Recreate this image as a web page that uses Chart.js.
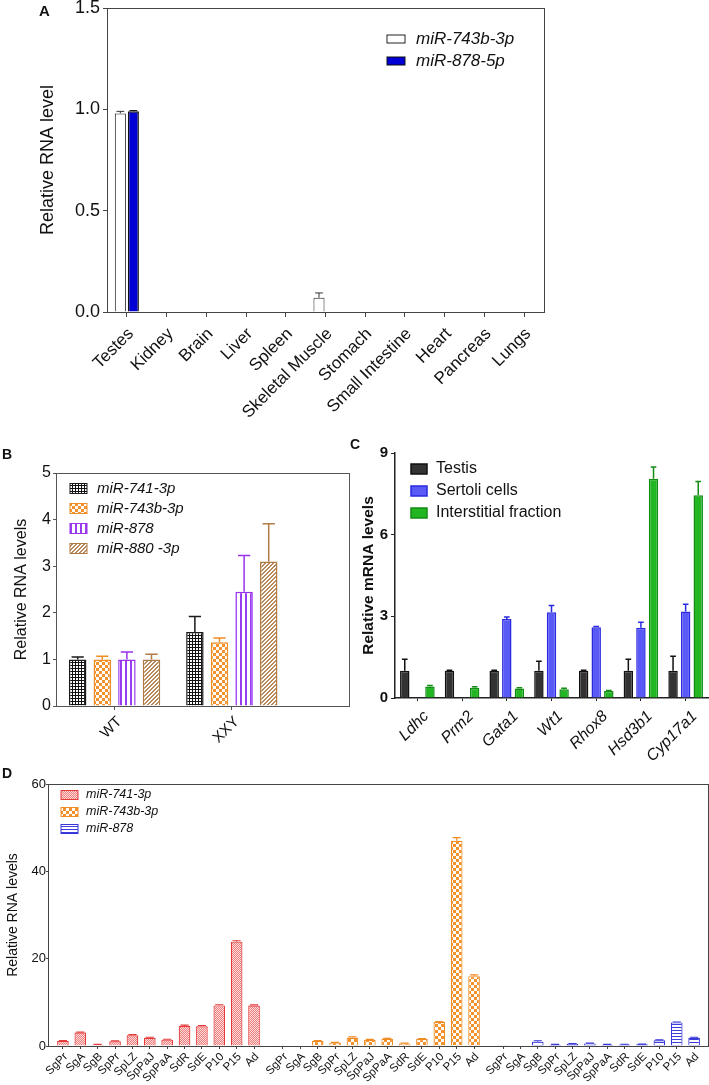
<!DOCTYPE html>
<html>
<head>
<meta charset="utf-8">
<title>miRNA expression panels</title>
<script src="https://cdn.jsdelivr.net/npm/chart.js@4.4.1/dist/chart.umd.min.js"></script>
<style>
  html, body { margin: 0; padding: 0; background: #fff; }
  body { position: relative; width: 709px; height: 1085px; overflow: hidden; font-family: "Liberation Sans", Arial, sans-serif; }
  .box { position: absolute; }
  .tag { position: absolute; font-weight: bold; line-height: 1; color: #111; }
</style>
</head>
<body>
<div class="box" style="left:0;top:0;width:560px;height:432px"><canvas id="chartA"></canvas></div>
<div class="box" style="left:0;top:440px;width:352px;height:340px"><canvas id="chartB"></canvas></div>
<div class="box" style="left:352px;top:440px;width:357px;height:340px"><canvas id="chartC"></canvas></div>
<div class="box" style="left:0;top:775px;width:709px;height:310px"><canvas id="chartD"></canvas></div>

<div class="tag" style="left:39px;top:3px;font-size:15px">A</div>
<div class="tag" style="left:2px;top:447px;font-size:14px">B</div>
<div class="tag" style="left:350px;top:437px;font-size:14px">C</div>
<div class="tag" style="left:2px;top:766px;font-size:14px">D</div>

<script>
const FONT = "'Liberation Sans', Arial, sans-serif";
Chart.defaults.font.family = FONT;
Chart.defaults.color = '#111';
Chart.defaults.animation = false;
Chart.defaults.plugins.legend.display = false;
Chart.defaults.plugins.tooltip.enabled = false;

// A - tissue distribution
const tissues = ['Testes', 'Kidney', 'Brain', 'Liver', 'Spleen', 'Skeletal Muscle', 'Stomach', 'Small Intestine', 'Heart', 'Pancreas', 'Lungs'];
const tissue743b = [0.98, 0, 0, 0, 0, 0.07, 0, 0, 0, 0, 0];
const tissue743bErr = [0.01, 0, 0, 0, 0, 0.024, 0, 0, 0, 0, 0];
const tissue878 = [0.99, 0, 0, 0, 0, 0, 0, 0, 0, 0, 0];
const tissue878Err = [0.004, 0, 0, 0, 0, 0, 0, 0, 0, 0, 0];
const tissueTicks = [0, 0.5, 1.0, 1.5];

// B - WT vs XXY
const genotypes = ['WT', 'XXY'];
const geno741 = [1.0, 1.59];
const geno741Err = [0.05, 0.33];
const geno743b = [1.0, 1.37];
const geno743bErr = [0.07, 0.09];
const geno878 = [1.0, 2.45];
const geno878Err = [0.16, 0.78];
const geno880 = [1.0, 3.10];
const geno880Err = [0.11, 0.81];
const genoTicks = [0, 1, 2, 3, 4, 5];

// C - marker genes by fraction
const genes = ['Ldhc', 'Prm2', 'Gata1', 'Wt1', 'Rhox8', 'Hsd3b1', 'Cyp17a1'];
const geneTestis = [1.0, 1.0, 1.0, 1.0, 1.0, 1.0, 1.0];
const geneTestisErr = [0.42, 0.02, 0.02, 0.35, 0.02, 0.42, 0.53];
const geneSertoli = [0.03, 0.02, 2.90, 3.15, 2.60, 2.58, 3.18];
const geneSertoliErr = [0, 0, 0.08, 0.25, 0.03, 0.20, 0.26];
const geneInterstitial = [0.42, 0.38, 0.35, 0.32, 0.26, 8.05, 7.45];
const geneInterstitialErr = [0.04, 0.03, 0.03, 0.04, 0.02, 0.44, 0.50];
const geneTicks = [0, 3, 6, 9];

// D - germ cell stages
const stages = ['SgPr', 'SgA', 'SgB', 'SpPr', 'SpLZ', 'SpPaJ', 'SpPaA', 'SdR', 'SdE', 'P10', 'P15', 'Ad'];
const stage741 = [1.15, 3.1, 0.3, 1.07, 2.45, 1.9, 1.45, 4.6, 4.5, 9.3, 23.9, 9.25];
const stage741Err = [0.1, 0.1, 0.05, 0.1, 0.15, 0.1, 0.1, 0.2, 0.2, 0.15, 0.2, 0.15];
const stage743b = [0.05, 0.1, 1.15, 0.8, 1.9, 1.4, 1.65, 0.6, 1.6, 5.5, 47.0, 16.0];
const stage743bErr = [0, 0, 0.1, 0.05, 0.2, 0.1, 0.1, 0.05, 0.1, 0.1, 0.7, 0.3];
const stage878 = [0.05, 0.1, 1.0, 0.3, 0.5, 0.6, 0.3, 0.35, 0.4, 1.3, 5.4, 1.9];
const stage878Err = [0, 0, 0.2, 0.05, 0.05, 0.05, 0.05, 0.05, 0.05, 0.1, 0.1, 0.1];
const stageTicks = [0, 20, 40, 60];

// fill patterns
function pattern(w, h, bg, paint) {
  const c = document.createElement('canvas');
  c.width = w;
  c.height = h;
  const g = c.getContext('2d');
  g.fillStyle = bg;
  g.fillRect(0, 0, w, h);
  paint(g);
  return g.createPattern(c, 'repeat');
}
const gridBlack = pattern(3, 3, '#fff', g => { g.fillStyle = '#111'; g.fillRect(0, 0, 3, 1); g.fillRect(0, 0, 1, 3); });
const checkOrange = pattern(6, 6, '#fff', g => { g.fillStyle = '#f5912b'; g.fillRect(0, 0, 3, 3); g.fillRect(3, 3, 3, 3); });
const stripePurple = pattern(5, 5, '#fff', g => { g.fillStyle = '#9a3cf0'; g.fillRect(0, 0, 2, 5); });
const hatchBrown = pattern(4, 4, '#fff', g => {
  g.fillStyle = '#b8875a';
  for (let i = 0; i < 4; i++) { g.fillRect(i, 3 - i, 1, 1); g.fillRect((i + 1) % 4, 3 - i, 1, 1); }
});
const dotsRed = pattern(2, 2, '#fddcdc', g => { g.fillStyle = '#ee7d7d'; g.fillRect(0, 0, 1, 1); g.fillRect(1, 1, 1, 1); });
const linesBlue = pattern(3, 3, '#fff', g => { g.fillStyle = '#3c3cdc'; g.fillRect(0, 0, 3, 1); });

// upper error bars from dataset.errors
const errorBars = {
  id: 'errorBars',
  afterDatasetsDraw(chart) {
    const { ctx } = chart;
    chart.data.datasets.forEach((ds, i) => {
      if (!ds.errors) return;
      const meta = chart.getDatasetMeta(i);
      const yScale = chart.scales[meta.yAxisID];
      meta.data.forEach((bar, j) => {
        const err = ds.errors[j];
        if (!err) return;
        const raw = ds.data[j];
        const val = typeof raw === 'object' ? raw.y : raw;
        const yEnd = yScale.getPixelForValue(val + err);
        const half = bar.width * (ds.capRatio || 0.35);
        ctx.save();
        ctx.strokeStyle = ds.errorColor || ds.borderColor;
        ctx.lineWidth = ds.errorWidth || 1.5;
        ctx.beginPath();
        ctx.moveTo(bar.x, bar.y);
        ctx.lineTo(bar.x, yEnd);
        ctx.moveTo(bar.x - half, yEnd);
        ctx.lineTo(bar.x + half, yEnd);
        ctx.stroke();
        ctx.restore();
      });
    });
  }
};

// closed box round the plot area
const frame = {
  id: 'frame',
  afterDraw(chart, args, opts) {
    if (!opts.color) return;
    const { ctx, chartArea: a } = chart;
    ctx.save();
    ctx.strokeStyle = opts.color;
    ctx.lineWidth = 1;
    ctx.strokeRect(Math.round(a.left) + 0.5, Math.round(a.top) + 0.5, Math.round(a.right - a.left), Math.round(a.bottom - a.top));
    ctx.restore();
  }
};

// legend with pattern swatches, placed inside the plot
const swatchLegend = {
  id: 'swatchLegend',
  afterDraw(chart, args, o) {
    if (o.x === undefined) return;
    const { ctx } = chart;
    ctx.save();
    ctx.font = o.textFont;
    ctx.textBaseline = 'middle';
    chart.data.datasets.forEach((ds, i) => {
      const y = o.y + i * o.row;
      ctx.fillStyle = ds.backgroundColor;
      ctx.fillRect(o.x, y - o.h / 2, o.w, o.h);
      ctx.strokeStyle = ds.borderColor;
      ctx.lineWidth = o.line || 1;
      ctx.strokeRect(o.x, y - o.h / 2, o.w, o.h);
      ctx.fillStyle = '#111';
      ctx.fillText(ds.label, o.x + o.w + o.gap, y);
    });
    ctx.restore();
  }
};

const fixWidth = w => s => { s.width = w; s.paddingTop = 0; s.paddingBottom = 0; };
const fixHeight = h => s => { s.height = h; s.paddingLeft = 0; s.paddingRight = 0; };
const setTicks = list => s => { s.ticks = list.map(v => ({ value: v })); };
const indexed = arr => arr.map((y, i) => ({ x: i, y }));

// ---------- A
new Chart(document.getElementById('chartA'), {
  type: 'bar',
  data: {
    labels: tissues,
    datasets: [
      { label: 'miR-743b-3p', data: tissue743b, errors: tissue743bErr, backgroundColor: '#ffffff', borderColor: '#222', borderWidth: 1, errorColor: '#333', errorWidth: 1 },
      { label: 'miR-878-5p', data: tissue878, errors: tissue878Err, backgroundColor: '#0000d6', borderColor: '#111', borderWidth: 1.5, errorColor: '#111', errorWidth: 1 }
    ]
  },
  options: {
    responsive: true,
    maintainAspectRatio: false,
    layout: { padding: { left: 0, top: 8, right: 16, bottom: 0 } },
    datasets: { bar: { categoryPercentage: 0.655, barPercentage: 0.85 } },
    scales: {
      x: {
        grid: { drawOnChartArea: false, offset: false, tickLength: 5, color: '#444' },
        border: { color: '#444' },
        ticks: { autoSkip: false, minRotation: 45, maxRotation: 45, labelOffset: 4, padding: 7, font: { size: 17 } },
        afterFit: fixHeight(120)
      },
      y: {
        min: tissueTicks[0],
        max: tissueTicks[tissueTicks.length - 1],
        afterBuildTicks: setTicks(tissueTicks),
        ticks: { callback: v => v.toFixed(1), padding: 3, font: { size: 18 } },
        grid: { drawOnChartArea: false, tickLength: 4, color: '#444' },
        border: { color: '#444' },
        title: { display: true, text: 'Relative RNA level', font: { size: 18 }, padding: { top: 37 } },
        afterFit: fixWidth(107)
      }
    },
    plugins: {
      frame: { color: '#444' },
      swatchLegend: { x: 387, y: 39, row: 22, w: 18, h: 8, gap: 11, textFont: 'italic 17px ' + FONT }
    }
  },
  plugins: [errorBars, frame, swatchLegend]
});

// ---------- B
new Chart(document.getElementById('chartB'), {
  type: 'bar',
  data: {
    datasets: [
      { label: 'miR-741-3p', data: indexed(geno741), errors: geno741Err, backgroundColor: gridBlack, borderColor: '#1a1a1a' },
      { label: 'miR-743b-3p', data: indexed(geno743b), errors: geno743bErr, backgroundColor: checkOrange, borderColor: '#f08c24' },
      { label: 'miR-878', data: indexed(geno878), errors: geno878Err, backgroundColor: stripePurple, borderColor: '#9933ee' },
      { label: 'miR-880 -3p', data: indexed(geno880), errors: geno880Err, backgroundColor: hatchBrown, borderColor: '#b07a45' }
    ]
  },
  options: {
    responsive: true,
    maintainAspectRatio: false,
    layout: { padding: { left: 0, top: 33, right: 3, bottom: 0 } },
    datasets: { bar: { categoryPercentage: 0.84, barPercentage: 0.71, borderWidth: 1.5 } },
    scales: {
      x: {
        type: 'linear',
        min: -0.5,
        max: genotypes.length,
        offset: false,
        afterBuildTicks: setTicks(genotypes.map((_, i) => i)),
        grid: { drawOnChartArea: false, offset: false, tickLength: 4, color: '#555' },
        border: { color: '#555' },
        ticks: { autoSkip: false, minRotation: 45, maxRotation: 45, labelOffset: 5, padding: 3, font: { size: 15 }, callback: (v, i) => genotypes[i] },
        afterFit: fixHeight(74)
      },
      y: {
        min: genoTicks[0],
        max: genoTicks[genoTicks.length - 1],
        afterBuildTicks: setTicks(genoTicks),
        ticks: { padding: 2, font: { size: 16 } },
        grid: { drawOnChartArea: false, tickLength: 3, color: '#555' },
        border: { color: '#555' },
        title: { display: true, text: 'Relative RNA levels', font: { size: 16 }, padding: { top: 12.4 } },
        afterFit: fixWidth(56)
      }
    },
    plugins: {
      frame: { color: '#555' },
      swatchLegend: { x: 70, y: 48.5, row: 20, w: 17, h: 10, gap: 10, textFont: 'italic 15px ' + FONT }
    }
  },
  plugins: [errorBars, frame, swatchLegend]
});

// ---------- C
new Chart(document.getElementById('chartC'), {
  type: 'bar',
  data: {
    labels: genes,
    datasets: [
      { label: 'Testis', data: geneTestis, errors: geneTestisErr, backgroundColor: '#333333', borderColor: '#111111', capRatio: 0.3 },
      { label: 'Sertoli cells', data: geneSertoli, errors: geneSertoliErr, backgroundColor: '#5a5af6', borderColor: '#2a2ae0', capRatio: 0.3 },
      { label: 'Interstitial fraction', data: geneInterstitial, errors: geneInterstitialErr, backgroundColor: '#22b622', borderColor: '#138c13', capRatio: 0.3 }
    ]
  },
  options: {
    responsive: true,
    maintainAspectRatio: false,
    layout: { padding: { left: 0, top: 13, right: 1, bottom: 0 } },
    datasets: { bar: { categoryPercentage: 0.845, barPercentage: 0.75, borderWidth: 1.5 } },
    scales: {
      x: {
        grid: { drawOnChartArea: false, offset: false, tickLength: 3, color: '#222' },
        border: { color: '#222', width: 1.5 },
        ticks: { autoSkip: false, minRotation: 45, maxRotation: 45, labelOffset: 9, padding: 6, font: { size: 16, style: 'italic' } },
        afterFit: fixHeight(82)
      },
      y: {
        min: geneTicks[0],
        max: geneTicks[geneTicks.length - 1],
        afterBuildTicks: setTicks(geneTicks),
        ticks: { padding: 3, font: { size: 15, weight: 'bold' } },
        grid: { drawOnChartArea: false, tickLength: 4, color: '#222' },
        border: { color: '#222', width: 1.5 },
        title: { display: true, text: 'Relative mRNA levels', font: { size: 15.5, weight: 'bold' }, padding: { top: 7.7 } },
        afterFit: fixWidth(43)
      }
    },
    plugins: {
      swatchLegend: { x: 59, y: 29, row: 22, w: 16, h: 10, gap: 9, line: 1.5, textFont: '16px ' + FONT }
    }
  },
  plugins: [errorBars, frame, swatchLegend]
});

// ---------- D
// each miRNA gets its own run of stages, with a gap between runs
const groupStride = stages.length + 0.667;
const stageX = (g, i) => g * groupStride + i;
const stageSeries = (g, values) => values.map((y, i) => ({ x: stageX(g, i), y }));
const stagePositions = [0, 1, 2].flatMap(g => stages.map((_, i) => stageX(g, i)));

new Chart(document.getElementById('chartD'), {
  type: 'bar',
  data: {
    datasets: [
      { label: 'miR-741-3p', data: stageSeries(0, stage741), errors: stage741Err, backgroundColor: dotsRed, borderColor: '#e53a3a', errorWidth: 1.2 },
      { label: 'miR-743b-3p', data: stageSeries(1, stage743b), errors: stage743bErr, backgroundColor: checkOrange, borderColor: '#f08c24', errorWidth: 1.2 },
      { label: 'miR-878', data: stageSeries(2, stage878), errors: stage878Err, backgroundColor: linesBlue, borderColor: '#3535d8', errorWidth: 1.2 }
    ]
  },
  options: {
    responsive: true,
    maintainAspectRatio: false,
    layout: { padding: { left: 0, top: 9, right: 1, bottom: 0 } },
    datasets: { bar: { grouped: false, categoryPercentage: 1, barPercentage: 0.67, borderWidth: 1.2 } },
    scales: {
      x: {
        type: 'linear',
        min: -0.86,
        max: stagePositions[stagePositions.length - 1] + 0.8,
        offset: false,
        afterBuildTicks: setTicks(stagePositions),
        grid: { drawOnChartArea: false, offset: false, tickLength: 3, color: '#444' },
        border: { color: '#444' },
        ticks: { autoSkip: false, minRotation: 45, maxRotation: 45, labelOffset: 3, padding: 1, font: { size: 11.5 }, callback: (v, i) => stages[i % stages.length] },
        afterFit: fixHeight(39)
      },
      y: {
        min: stageTicks[0],
        max: stageTicks[stageTicks.length - 1],
        afterBuildTicks: setTicks(stageTicks),
        ticks: { padding: 0, font: { size: 13 } },
        grid: { drawOnChartArea: false, tickLength: 2, color: '#444' },
        border: { color: '#444' },
        title: { display: true, text: 'Relative RNA levels', font: { size: 14 }, padding: { top: 4.6 } },
        afterFit: fixWidth(48)
      }
    },
    plugins: {
      frame: { color: '#444' },
      swatchLegend: { x: 61, y: 20, row: 17, w: 17, h: 9, gap: 8, textFont: 'italic 12.5px ' + FONT }
    }
  },
  plugins: [errorBars, frame, swatchLegend]
});
</script>
</body>
</html>
